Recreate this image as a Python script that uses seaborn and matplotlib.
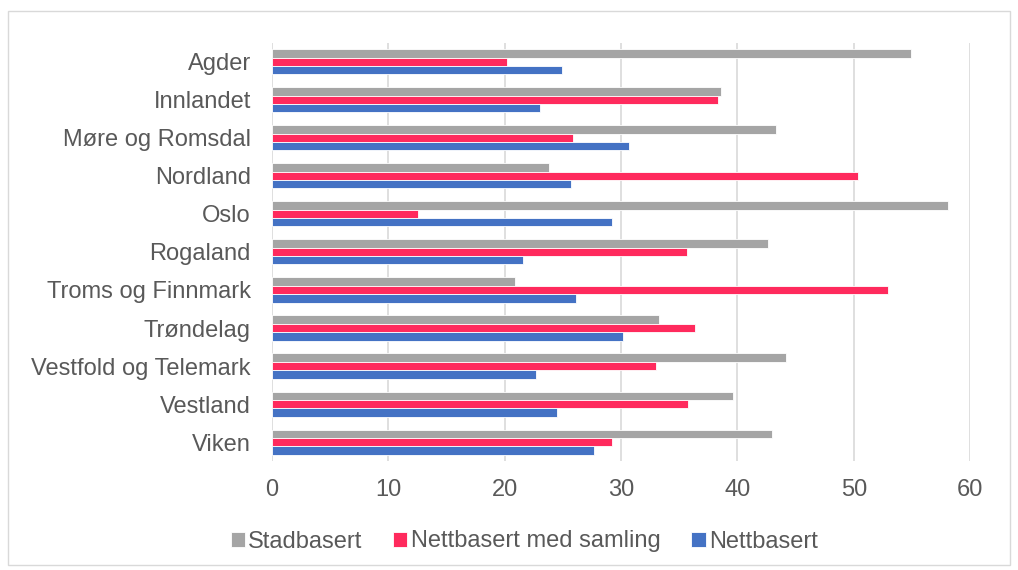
import pandas as pd
import matplotlib.pyplot as plt
import seaborn as sns
from matplotlib.patches import Rectangle

# Data
regions = ['Agder', 'Innlandet', 'Møre og Romsdal', 'Nordland', 'Oslo', 'Rogaland',
           'Troms og Finnmark', 'Trøndelag', 'Vestfold og Telemark', 'Vestland', 'Viken']
stadbasert = [54.9, 38.6, 43.3, 23.8, 58.1, 42.6, 20.9, 33.3, 44.2, 39.6, 43.0]
nett_samling = [20.2, 38.3, 25.9, 50.4, 12.6, 35.7, 52.9, 36.4, 33.0, 35.8, 29.2]
nettbasert = [24.9, 23.05, 30.7, 25.7, 29.2, 21.6, 26.1, 30.2, 22.7, 24.5, 27.7]

series = ['Stadbasert', 'Nettbasert med samling', 'Nettbasert']
colors = ['#A5A5A5', '#FF2A5D', '#4472C4']

df = pd.DataFrame({'region': regions * 3,
                   'serie': [s for s in series for _ in regions],
                   'verdi': stadbasert + nett_samling + nettbasert})

sns.set_theme(style='white')
plt.rcParams['font.family'] = ['Liberation Sans', 'DejaVu Sans']
text_col = '#595959'

fig = plt.figure(figsize=(10.18, 5.7), dpi=100)
ax = fig.add_axes([0.267, 0.191, 0.686, 0.734])

sns.barplot(data=df, x='verdi', y='region', hue='serie', hue_order=series,
            palette=colors, orient='h', width=0.66, saturation=1,
            edgecolor='white', linewidth=0.6, ax=ax)

ax.set_xlim(0, 60)
ax.set_xticks(range(0, 61, 10))
ax.xaxis.grid(True, color='#D9D9D9', linewidth=1.2)
ax.set_axisbelow(True)
for s in ax.spines.values():
    s.set_visible(False)
ax.set_xlabel('')
ax.set_ylabel('')
ax.tick_params(axis='x', length=0, pad=13, labelsize=17, labelcolor=text_col)
ax.tick_params(axis='y', length=0, pad=15, labelsize=17, labelcolor=text_col)

handles, labels = ax.get_legend_handles_labels()
ax.legend_.remove()
fig.legend(handles, labels, loc='center', bbox_to_anchor=(0.515, 0.05), ncol=3,
           frameon=False, fontsize=17, labelcolor=text_col, handlelength=0.6,
           handleheight=0.6, handletextpad=0.15, columnspacing=1.3)

fig.patches.append(Rectangle((0.008, 0.008), 0.984, 0.972, transform=fig.transFigure,
                             fill=False, edgecolor='#D9D9D9', linewidth=1))

fig.savefig('out.png', dpi=100)
